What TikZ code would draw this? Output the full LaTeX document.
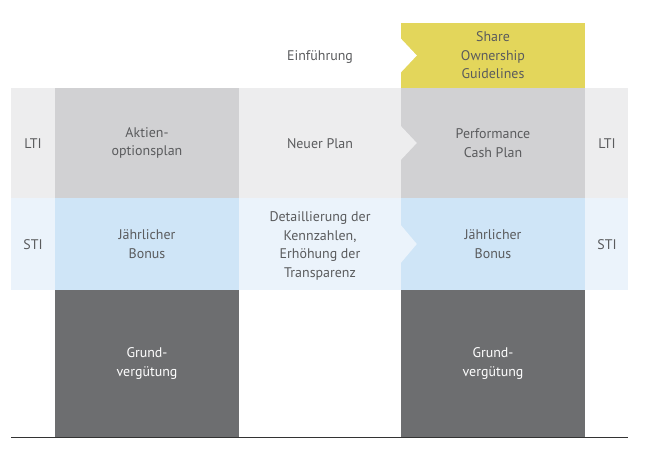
\documentclass[tikz,border=0pt]{standalone}
\usepackage{fontspec}
\setmainfont{PT Sans}
\definecolor{txtgrey}{HTML}{5A5B5D}
\definecolor{sogyellow}{HTML}{E3D65B}
\definecolor{ltiband}{HTML}{EDEDEE}
\definecolor{lticell}{HTML}{D1D1D3}
\definecolor{stiband}{HTML}{EBF3FB}
\definecolor{sticell}{HTML}{CFE5F7}
\definecolor{basecell}{HTML}{6D6E70}
\tikzset{
  lbl/.style={align=center, text=txtgrey, inner sep=0pt, font=\fontsize{14}{18.5}\selectfont},
  cell/.style={lbl, minimum width=184bp},
}
\begin{document}
\begin{tikzpicture}[x=1bp,y=-1bp]
\useasboundingbox (0,0) rectangle (655,454);
%
\begin{scope}
\fill[ltiband] (11,88) rectangle (628,198);
\fill[stiband] (11,198) rectangle (628,290);
\end{scope}
%
\node[cell, fill=sogyellow, minimum height=65bp] (sog) at (493,55.5) {Share\\Ownership\\Guidelines};
\node[cell, fill=lticell, minimum height=110bp] (aop) at (147,143) {Aktien-\\optionsplan};
\node[cell, fill=lticell, minimum height=110bp] (pcp) at (493,143) {Performance\\Cash Plan};
\node[cell, fill=sticell, minimum height=92bp] (bonusold) at (147,244) {Jährlicher\\Bonus};
\node[cell, fill=sticell, minimum height=92bp] (bonusnew) at (493,244) {Jährlicher\\Bonus};
\node[cell, fill=basecell, text=white, minimum height=147bp] (baseold) at (147,363.5) {Grund-\\vergütung};
\node[cell, fill=basecell, text=white, minimum height=147bp] (basenew) at (493,363.5) {Grund-\\vergütung};
%
\fill[white] (sog.west) ++(0,-17) -- ++(16,17) -- ++(-16,17) -- cycle;
\fill[ltiband] (pcp.west) ++(0,-17) -- ++(16,17) -- ++(-16,17) -- cycle;
\fill[stiband] (bonusnew.west) ++(0,-19) -- ++(16,19) -- ++(-16,19) -- cycle;
%
\node[lbl] (einf) at (320,57) {Einführung};
\node[lbl] (neu) at (320,144) {Neuer Plan};
\node[lbl] (detail) at (320,246) {Detaillierung der\\Kennzahlen,\\Erhöhung der\\Transparenz};
%
\node[lbl] (ltil) at (33,144) {LTI};
\node[lbl] (ltir) at (607,144) {LTI};
\node[lbl] (stil) at (33,245) {STI};
\node[lbl] (stir) at (607,245) {STI};
%
\draw[line width=1bp, black!80] (11,437) -- (628,437);
\end{tikzpicture}
\end{document}
